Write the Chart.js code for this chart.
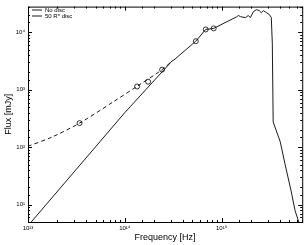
<!DOCTYPE html>
<html>
<head>
<meta charset="utf-8">
<script src="https://cdn.jsdelivr.net/npm/chart.js@4.4.1/dist/chart.umd.min.js"></script>
<style>
  body { margin: 0; background: #fff; }
  canvas { display: block; }
</style>
</head>
<body>
<canvas id="sed" width="307" height="245"></canvas>
<script>
// values (Hz / mJy)
const freqNoDisc = [1.0e13, 1.0e14, 3.07e14, 3.22e14, 5.41e14, 6.85e14, 8.28e14, 1.43e15, 1.49e15, 1.57e15, 1.76e15, 1.89e15, 1.98e15, 2.13e15, 2.29e15, 2.45e15, 2.57e15, 2.70e15, 2.90e15, 3.11e15, 3.26e15, 3.34e15, 3.41e15, 4.03e15, 4.53e15, 5.22e15, 5.74e15, 6.4e15];
const fluxNoDisc = [4.3, 400, 3160, 3300, 7000, 11200, 11700, 18600, 19600, 18700, 18000, 19600, 18000, 22900, 24800, 23800, 22000, 23800, 22000, 20400, 18100, 6500, 275, 125, 50, 17.4, 7.9, 4.5];

const freqDisc = [1.0e13, 1.78e13, 3.41e13, 7.45e13, 1.34e14, 2.43e14, 3.07e14];
const fluxDisc = [104, 151, 263, 603, 1150, 2240, 3160];

const freqObs = [3.41e13, 1.34e14, 1.74e14, 2.43e14, 5.41e14, 6.85e14, 8.28e14];
const fluxObs = [263, 1140, 1380, 2240, 7000, 11200, 11700];

const xTickLabels = { 13: "10\u00b9\u00b3", 14: "10\u00b9\u2074", 15: "10\u00b9\u2075" };
const yTickLabels = { 1: "10\u00b9", 2: "10\u00b2", 3: "10\u00b3", 4: "10\u2074" };

const FONT = "'Liberation Sans', Arial, sans-serif";

function toPoints(xs, ys) {
  return xs.map((x, i) => ({ x: x, y: ys[i] }));
}

function decade(v) {
  const e = Math.log10(v);
  return Math.abs(e - Math.round(e)) < 1e-6 ? Math.round(e) : null;
}

// inside tick marks on all four sides + box
const framePlugin = {
  id: "frame",
  afterLayout(chart) {
    // nudge the in-plot legend off the frame
    if (chart.legend) {
      chart.legend.left += 4;
      chart.legend.top += 7;
    }
  },
  afterDatasetsDraw(chart) {
    const { ctx, chartArea: a, scales } = chart;
    ctx.save();
    ctx.strokeStyle = "#000";
    ctx.lineWidth = 1;
    ctx.strokeRect(a.left + 0.5, a.top + 0.5, a.right - a.left, a.bottom - a.top);
    ctx.beginPath();
    scales.x.ticks.forEach(t => {
      const px = Math.round(scales.x.getPixelForValue(t.value)) + 0.5;
      const len = decade(t.value) !== null ? 4 : 2;
      ctx.moveTo(px, a.bottom); ctx.lineTo(px, a.bottom - len);
      ctx.moveTo(px, a.top); ctx.lineTo(px, a.top + len);
    });
    scales.y.ticks.forEach(t => {
      const py = Math.round(scales.y.getPixelForValue(t.value)) + 0.5;
      const len = decade(t.value) !== null ? 4 : 2;
      ctx.moveTo(a.left, py); ctx.lineTo(a.left + len, py);
      ctx.moveTo(a.right, py); ctx.lineTo(a.right - len, py);
    });
    ctx.stroke();
    ctx.restore();
  }
};

new Chart(document.getElementById("sed"), {
  type: "line",
  data: {
    datasets: [
      {
        label: "No disc",
        data: toPoints(freqNoDisc, fluxNoDisc),
        borderColor: "#000",
        borderWidth: 0.9,
        pointRadius: 0,
        tension: 0
      },
      {
        label: "50 R* disc",
        data: toPoints(freqDisc, fluxDisc),
        borderColor: "#000",
        borderWidth: 0.9,
        borderDash: [4, 3],
        pointRadius: 0,
        tension: 0.3
      },
      {
        label: "obs",
        data: toPoints(freqObs, fluxObs),
        showLine: false,
        pointStyle: "circle",
        pointRadius: 2.5,
        pointBorderWidth: 0.8,
        pointBorderColor: "#000",
        pointBackgroundColor: "rgba(255,255,255,0)"
      }
    ]
  },
  options: {
    responsive: false,
    animation: false,
    layout: { padding: { top: 3, right: 3, left: 0, bottom: 0 } },
    scales: {
      x: {
        type: "logarithmic",
        min: 1e13,
        max: 6.8e15,
        grid: { display: false, drawTicks: false },
        border: { display: false },
        afterFit: (s) => { s.height = 23; },
        ticks: {
          autoSkip: false,
          maxRotation: 0,
          padding: 3,
          color: "#000",
          font: { family: FONT, size: 6 },
          callback: (v) => xTickLabels[decade(v)] || ""
        },
        title: {
          display: true,
          text: "Frequency [Hz]",
          color: "#000",
          padding: { top: 0, bottom: 2 },
          font: { family: FONT, size: 9 }
        }
      },
      y: {
        type: "logarithmic",
        min: 5,
        max: 2.8e4,
        grid: { display: false, drawTicks: false },
        border: { display: false },
        afterFit: (s) => { s.width = 28; },
        ticks: {
          autoSkip: false,
          padding: 3,
          color: "#000",
          font: { family: FONT, size: 6 },
          callback: (v) => yTickLabels[decade(v)] || ""
        },
        title: {
          display: true,
          text: "Flux [mJy]",
          color: "#000",
          padding: { top: 3, bottom: 0 },
          font: { family: FONT, size: 9 }
        }
      }
    },
    plugins: {
      tooltip: { enabled: false },
      legend: {
        position: "chartArea",
        align: "start",
        labels: {
          filter: (item) => item.text !== "obs",
          usePointStyle: true,
          pointStyle: "line",
          pointStyleWidth: 10,
          boxHeight: 4,
          padding: 0,
          color: "#000",
          font: { family: FONT, size: 6 }
        }
      }
    }
  },
  plugins: [framePlugin]
});
</script>
</body>
</html>
